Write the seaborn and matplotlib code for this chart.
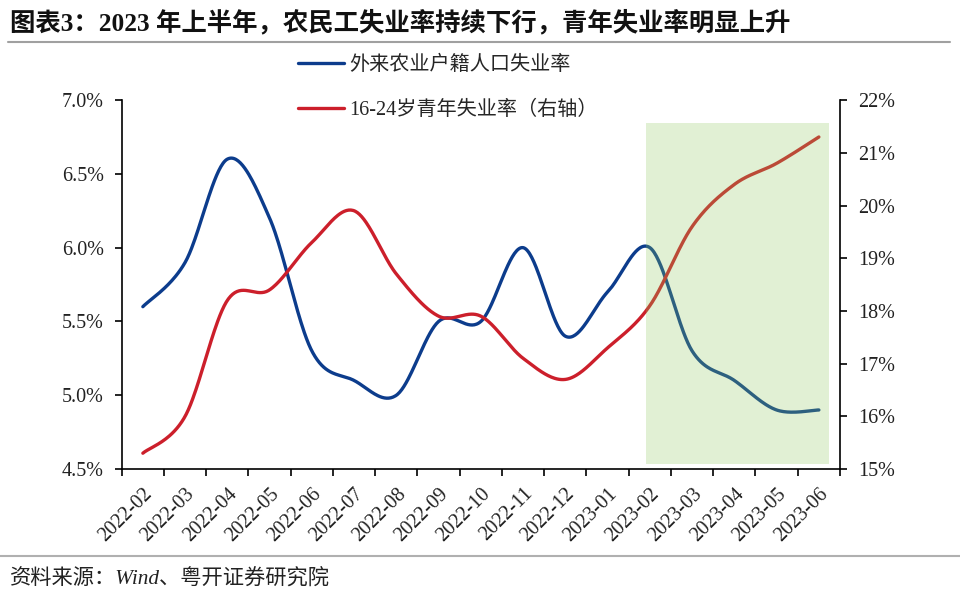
import numpy as np
import pandas as pd
import matplotlib
matplotlib.use("Agg")
import matplotlib.pyplot as plt
from matplotlib.patches import Rectangle
from matplotlib.lines import Line2D
from matplotlib.ticker import FuncFormatter, FixedLocator
import seaborn as sns

# ---------------- data ----------------
months = ["2022-02", "2022-03", "2022-04", "2022-05", "2022-06", "2022-07",
          "2022-08", "2022-09", "2022-10", "2022-11", "2022-12", "2023-01",
          "2023-02", "2023-03", "2023-04", "2023-05", "2023-06"]
migrant_rate = [5.6, 5.9, 6.6, 6.2, 5.3, 5.1, 5.0, 5.5, 5.5, 6.0, 5.4, 5.7,
                6.0, 5.3, 5.1, 4.9, 4.9]
youth_rate = [15.3, 16.0, 18.2, 18.4, 19.3, 19.9, 18.7, 17.9, 17.9, 17.1, 16.7,
              17.3, 18.1, 19.6, 20.4, 20.8, 21.3]
label_migrant = "外来农业户籍人口失业率"
label_youth = "16-24岁青年失业率（右轴）"
left_ticks = [4.5, 5.0, 5.5, 6.0, 6.5, 7.0]
right_ticks = [15, 16, 17, 18, 19, 20, 21, 22]
title = "图表3：2023 年上半年，农民工失业率持续下行，青年失业率明显上升"
source = "资料来源：Wind、粤开证券研究院"

# ---------------- style ----------------
sns.set_theme(style="ticks")
SERIF = ["Liberation Serif", "Noto Sans CJK SC", "DejaVu Sans"]
plt.rcParams["font.family"] = SERIF
plt.rcParams["axes.unicode_minus"] = False

BLUE = "#0c3c8c"
RED = "#cc1f2b"


def smooth(y, n=40):
    """Excel-like smoothed line (cubic Bezier through points)."""
    y = np.asarray(y, float)
    x = np.arange(len(y), dtype=float)
    P = np.column_stack([x, y])
    Pe = np.vstack([P[0], P, P[-1]])
    xs, ys = [], []
    t = np.linspace(0, 1, n)
    for i in range(len(P) - 1):
        p0, p1, p2, p3 = Pe[i], Pe[i + 1], Pe[i + 2], Pe[i + 3]
        c1 = p1 + (p2 - p0) / 6.0
        c2 = p2 - (p3 - p1) / 6.0
        b = ((1 - t) ** 3)[:, None] * p1 + (3 * (1 - t) ** 2 * t)[:, None] * c1 \
            + (3 * (1 - t) * t ** 2)[:, None] * c2 + (t ** 3)[:, None] * p2
        if i > 0:
            b = b[1:]
        xs.append(b[:, 0]); ys.append(b[:, 1])
    return np.concatenate(xs), np.concatenate(ys)


fig = plt.figure(figsize=(9.6, 6.03), dpi=100)
ax = fig.add_axes([0.1268, 0.2222, 0.875 - 0.1268, 0.834 - 0.2222])
ax2 = ax.twinx()

bx, by = smooth(migrant_rate)
rx, ry = smooth(youth_rate)
df_b = pd.DataFrame({"x": bx, "y": by})
df_r = pd.DataFrame({"x": rx, "y": ry})
sns.lineplot(data=df_b, x="x", y="y", ax=ax, color=BLUE, lw=2.4, sort=False,
             estimator=None, zorder=2)
sns.lineplot(data=df_r, x="x", y="y", ax=ax2, color=RED, lw=2.4, sort=False,
             estimator=None, zorder=2)

ax.set_xlim(-0.5, len(months) - 0.5)
ax.set_ylim(4.5, 7.0)
ax2.set_ylim(15, 22)

# shaded region, drawn on top (semi-transparent)
shade = Rectangle((11.9, 4.534), 16.25 - 11.9, 6.846 - 4.534,
                  transform=ax.transData, facecolor="#8cc85a", alpha=0.26,
                  edgecolor="none", zorder=5)
ax2.add_patch(shade)

# x ticks: boundaries as ticks, labels at category centres
ax.xaxis.set_major_locator(FixedLocator(np.arange(-0.5, len(months), 1.0)))
ax.set_xticklabels([], minor=False)
ax.set_xticks(np.arange(len(months)), minor=True)
ax.set_xticklabels(months, minor=True, rotation=45, ha="right",
                   rotation_mode="anchor", fontsize=14.5)
ax.tick_params(axis="x", which="minor", length=0, pad=11)
ax.tick_params(axis="x", which="major", length=5, width=1.2, direction="out",
               color="black")

ax.set_yticks(left_ticks)
ax.yaxis.set_major_formatter(FuncFormatter(lambda v, p: f"{v:.1f}%"))
ax2.set_yticks(right_ticks)
ax2.yaxis.set_major_formatter(FuncFormatter(lambda v, p: f"{v:.0f}%"))
ax.tick_params(axis="y", length=5, width=1.2, direction="out", labelsize=14.5,
               pad=8, color="black", labelcolor="#222222")
ax2.tick_params(axis="y", length=5, width=1.2, direction="out", labelsize=14.5,
                pad=8, color="black", labelcolor="#222222")
ax.tick_params(axis="x", which="both", labelcolor="#222222")

for a in (ax, ax2):
    a.set_xlabel("")
    a.set_ylabel("")
    a.spines["top"].set_visible(False)
    for s in ("left", "right", "bottom"):
        a.spines[s].set_color("black")
        a.spines[s].set_linewidth(1.2)
ax.spines["right"].set_visible(False)
ax2.spines["left"].set_visible(False)
ax2.spines["bottom"].set_visible(False)
ax2.patch.set_visible(False)

# legend
handles = [Line2D([], [], color=BLUE, lw=2.4), Line2D([], [], color=RED, lw=2.4)]
fig.legend(handles, [label_migrant, label_youth], loc="upper left",
           bbox_to_anchor=(0.310, 0.907), frameon=False, fontsize=14.5,
           handlelength=2.3, handletextpad=0.25, labelspacing=1.25,
           borderpad=0, borderaxespad=0)

# title, rules, source
fig.text(0.010, 0.963, title, fontsize=18.3, fontweight="bold", ha="left",
         va="center", color="#111111", family=SERIF)
fig.add_artist(Line2D([0.008, 0.99], [0.930, 0.930], color="#a0a0a0", lw=1.5,
                      transform=fig.transFigure))
fig.add_artist(Line2D([0.0, 1.0], [0.078, 0.078], color="#b0b0b0", lw=1.5,
                      transform=fig.transFigure))
fig.text(0.010, 0.041, source, fontsize=15.3, style="italic", ha="left",
         va="center", color="#222222", family=SERIF)

fig.savefig("out.png", dpi=100)
